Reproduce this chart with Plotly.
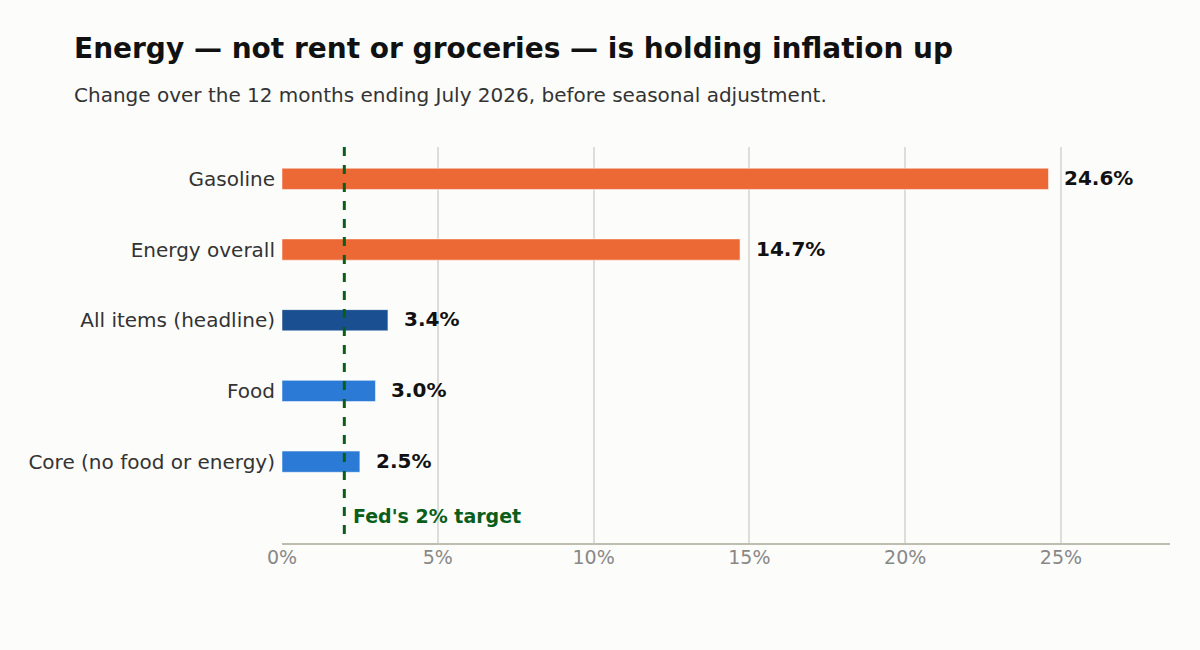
import plotly.graph_objects as go

categories = ["Core (no food or energy)", "Food", "All items (headline)", "Energy overall", "Gasoline"]
values = [2.5, 3.0, 3.4, 14.7, 24.6]
colors = ["#2B7BD6", "#2B7BD6", "#1A4F91", "#EC6834", "#EC6834"]
tick_vals = [0, 5, 10, 15, 20, 25]
tick_text = ["0%", "5%", "10%", "15%", "20%", "25%"]
target = 2.0
target_label = "Fed's 2% target"

FONT = "DejaVu Sans"
BG = "#FCFCFA"

fig = go.Figure()
fig.add_trace(go.Bar(
    y=categories, x=values, orientation="h",
    marker=dict(color=colors, line=dict(color="rgba(255,255,255,0.5)", width=1)),
    width=0.3, hoverinfo="skip", showlegend=False,
))

for c, v in zip(categories, values):
    fig.add_annotation(x=v, y=c, text=f"{v:.1f}%", showarrow=False,
                       xanchor="left", xshift=14, yshift=1,
                       font=dict(family=FONT, size=20, color="#111111", weight="bold"))

fig.add_shape(type="line", x0=target, x1=target, y0=1, y1=0, yref="paper",
              line=dict(color="#0B5E1A", width=3, dash="dash"))
fig.add_annotation(x=target, y=27/396, yref="paper", text=target_label, showarrow=False,
                   xanchor="left", yanchor="middle", xshift=7,
                   font=dict(family=FONT, size=19, color="#0B5E1A", weight="bold"))

fig.update_layout(
    width=1200, height=650,
    paper_bgcolor=BG, plot_bgcolor=BG,
    margin=dict(l=282, r=30, t=147, b=107),
    font=dict(family=FONT),
    title=dict(text="<b>Energy — not rent or groceries — is holding inflation up</b>",
               x=74/1200, xanchor="left", y=1-48/650, yanchor="middle",
               font=dict(family=FONT, size=28, color="#111111")),
    bargap=0.7,
)
fig.add_annotation(text="Change over the 12 months ending July 2026, before seasonal adjustment.",
                   xref="paper", yref="paper", x=(72-282)/888, y=1+(147-95)/396,
                   xanchor="left", yanchor="middle", showarrow=False,
                   font=dict(family=FONT, size=20, color="#333333"))

fig.update_xaxes(range=[0, 28.5], tickvals=tick_vals, ticktext=tick_text,
                 showgrid=True, gridcolor="#DDDDDA", gridwidth=1.5,
                 showline=True, linecolor="#BDBDB0", linewidth=2,
                 zeroline=False, ticks="", ticklen=0, ticklabelstandoff=-4,
                 tickfont=dict(family=FONT, size=19, color="#888888"))
fig.update_yaxes(range=[-1.15, 4.45], showgrid=False, zeroline=False,
                 ticks="", ticklabelstandoff=6,
                 tickfont=dict(family=FONT, size=20, color="#333333"))

fig.write_html("out.html", config={"displayModeBar": False},
               post_script="document.body.style.margin='0';document.body.style.background='%s';" % BG)
